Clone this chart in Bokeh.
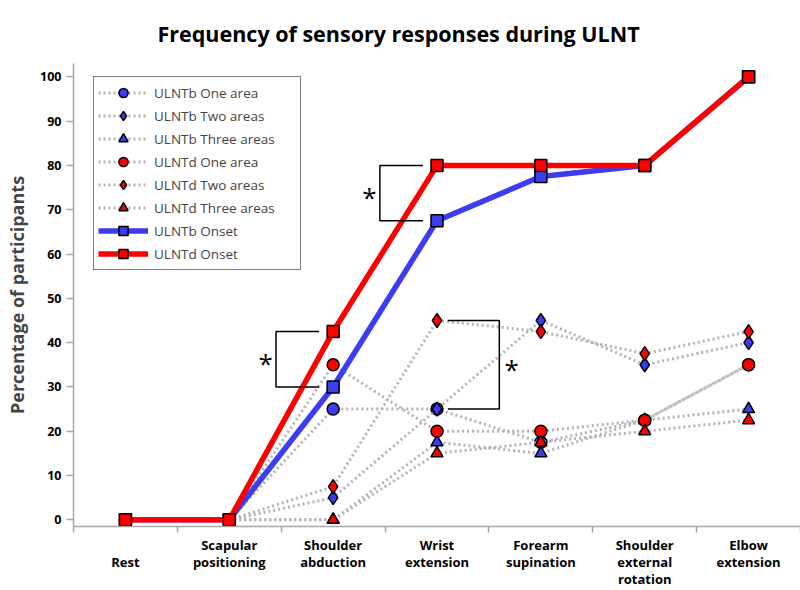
from bokeh.plotting import figure
from bokeh.models import FixedTicker, Legend, LegendItem, Range1d
from bokeh.core.properties import value
from bokeh.embed import file_html
from bokeh.resources import INLINE

# ---------------- data ----------------
stages = ["\nRest", "Scapular\npositioning", "Shoulder\nabduction", "Wrist\nextension",
          "Forearm\nsupination", "Shoulder\nexternal\nrotation", "Elbow\nextension"]
onset_b = [0, 0, 30, 67.5, 77.5, 80, 100]
onset_d = [0, 0, 42.5, 80, 80, 80, 100]
# response-area series start at "Scapular positioning" (stage index 1)
b_one = [0, 25, 25, 17.5, 22.5, 35]
b_two = [0, 5, 25, 45, 35, 40]
b_three = [0, 0, 17.5, 15, 22.5, 25]
d_one = [0, 35, 20, 20, 22.5, 35]
d_two = [0, 7.5, 45, 42.5, 37.5, 42.5]
d_three = [0, 0, 15, 17.5, 20, 22.5]
y_ticks = list(range(0, 101, 10))

BLUE = "#3c3cf2"
RED = "#ff0000"
GRAY = "#b4b4b4"
FONT = "Open Sans"

xs_all = list(range(len(stages)))
xs_area = xs_all[1:]

p = figure(width=800, height=590, output_backend="svg", toolbar_location=None,
           x_range=Range1d(-0.5, 6.5), y_range=Range1d(-1.5, 103),
           min_border_left=73, min_border_right=0, min_border_top=63, min_border_bottom=50)
p.outline_line_color = None
p.xgrid.visible = False
p.ygrid.visible = False

p.title.text = "Frequency of sensory responses during ULNT"
p.title.align = "left"
p.title.offset = 84
p.title.standoff = 32
p.title.text_font = FONT
p.title.text_font_size = "21.5px"
p.title.text_font_style = "bold"
p.title.text_color = "black"

items = []
series = [
    ("ULNTb One area", b_one, "circle", BLUE, 12),
    ("ULNTb Two areas", b_two, "diamond", BLUE, 14),
    ("ULNTb Three areas", b_three, "triangle", BLUE, 12),
    ("ULNTd One area", d_one, "circle", RED, 12),
    ("ULNTd Two areas", d_two, "diamond", RED, 14),
    ("ULNTd Three areas", d_three, "triangle", RED, 12),
]
for name, vals, marker, col, size in series:
    ln = p.line(xs_area, vals, line_color=GRAY, line_width=3, line_dash="2 3")
    sc = p.scatter(xs_area[1:], vals[1:], marker=marker, size=size,
                   fill_color=col, line_color="black", line_width=1.5)
    items.append(LegendItem(label=name, renderers=[ln, sc]))

for name, vals, col in [("ULNTb Onset", onset_b, BLUE), ("ULNTd Onset", onset_d, RED)]:
    ln = p.line(xs_all, vals, line_color=col, line_width=5.5)
    sc = p.scatter(xs_all, vals, marker="square", size=12, fill_color=col,
                   line_color="black", line_width=1.5)
    items.append(LegendItem(label=name, renderers=[ln, sc]))

# significance brackets (derived from data)
i1, i2 = 2, 3
left_brackets = [(i1, onset_b[i1], onset_d[i1]), (i2, onset_b[i2], onset_d[i2])]
right_brackets = [(i2, b_two[i2 - 1], d_two[i2 - 1])]
bx, by, sx, sy = [], [], [], []
for i, lo, hi in left_brackets:
    bx.append([i - 0.135, i - 0.55, i - 0.55, i - 0.135])
    by.append([hi, hi, lo, lo])
    sx.append(i - 0.65)
    sy.append((lo + hi) / 2)
for i, lo, hi in right_brackets:
    bx.append([i + 0.105, i + 0.6, i + 0.6, i + 0.105])
    by.append([hi, hi, lo, lo])
    sx.append(i + 0.72)
    sy.append((lo + hi) / 2)
p.multi_line(bx, by, line_color="black", line_width=1.5)
p.text(sx, sy, text=["*"] * len(sx), text_font=value(FONT), text_font_size="26px",
       text_align="center", text_baseline="middle", text_color="black", y_offset=4)

legend = Legend(items=items, location=(20, 256))
legend.label_text_font = FONT
legend.label_text_font_size = "13.5px"
legend.label_height = 23
legend.glyph_height = 23
legend.glyph_width = 50
legend.spacing = 0
legend.padding = 4
legend.label_standoff = 6
legend.label_width = 142
legend.border_line_color = "black"
legend.border_line_width = 1.5
legend.background_fill_alpha = 1
p.add_layout(legend)

# axes
p.xaxis.ticker = FixedTicker(ticks=xs_all, minor_ticks=[x - 0.5 for x in range(len(stages) + 1)])
p.xaxis.major_label_overrides = {i: s for i, s in enumerate(stages)}
p.xaxis.major_tick_out = 0
p.xaxis.major_tick_in = 0
p.xaxis.minor_tick_out = 6
p.xaxis.minor_tick_in = 0
p.xaxis.major_label_text_font = FONT
p.xaxis.major_label_text_font_style = "bold"
p.xaxis.major_label_text_font_size = "13px"
p.xaxis.major_label_text_line_height = 0.95
p.xaxis.major_label_standoff = 3
p.xaxis.axis_label = None
p.xaxis.axis_label_standoff = 0

p.yaxis.ticker = FixedTicker(ticks=y_ticks)
p.yaxis.major_tick_out = 7
p.yaxis.major_tick_in = 0
p.yaxis.minor_tick_out = 0
p.yaxis.minor_tick_in = 0
p.yaxis.major_label_text_font = FONT
p.yaxis.major_label_text_font_style = "bold"
p.yaxis.major_label_text_font_size = "12.5px"
p.yaxis.major_label_standoff = 5
p.yaxis.axis_label = "Percentage of participants"
p.yaxis.axis_label_text_font = FONT
p.yaxis.axis_label_text_font_size = "18px"
p.yaxis.axis_label_text_font_style = "bold"
p.yaxis.axis_label_standoff = 8

for ax in (p.xaxis, p.yaxis):
    ax.axis_line_color = "#a6a6a6"
    ax.axis_line_width = 1.5
    ax.major_tick_line_color = "#a6a6a6"
    ax.minor_tick_line_color = "#a6a6a6"
    ax.major_tick_line_width = 1.5
    ax.minor_tick_line_width = 1.5
    ax.major_label_text_color = "black"

open("out.html", "w").write(file_html(p, INLINE))
